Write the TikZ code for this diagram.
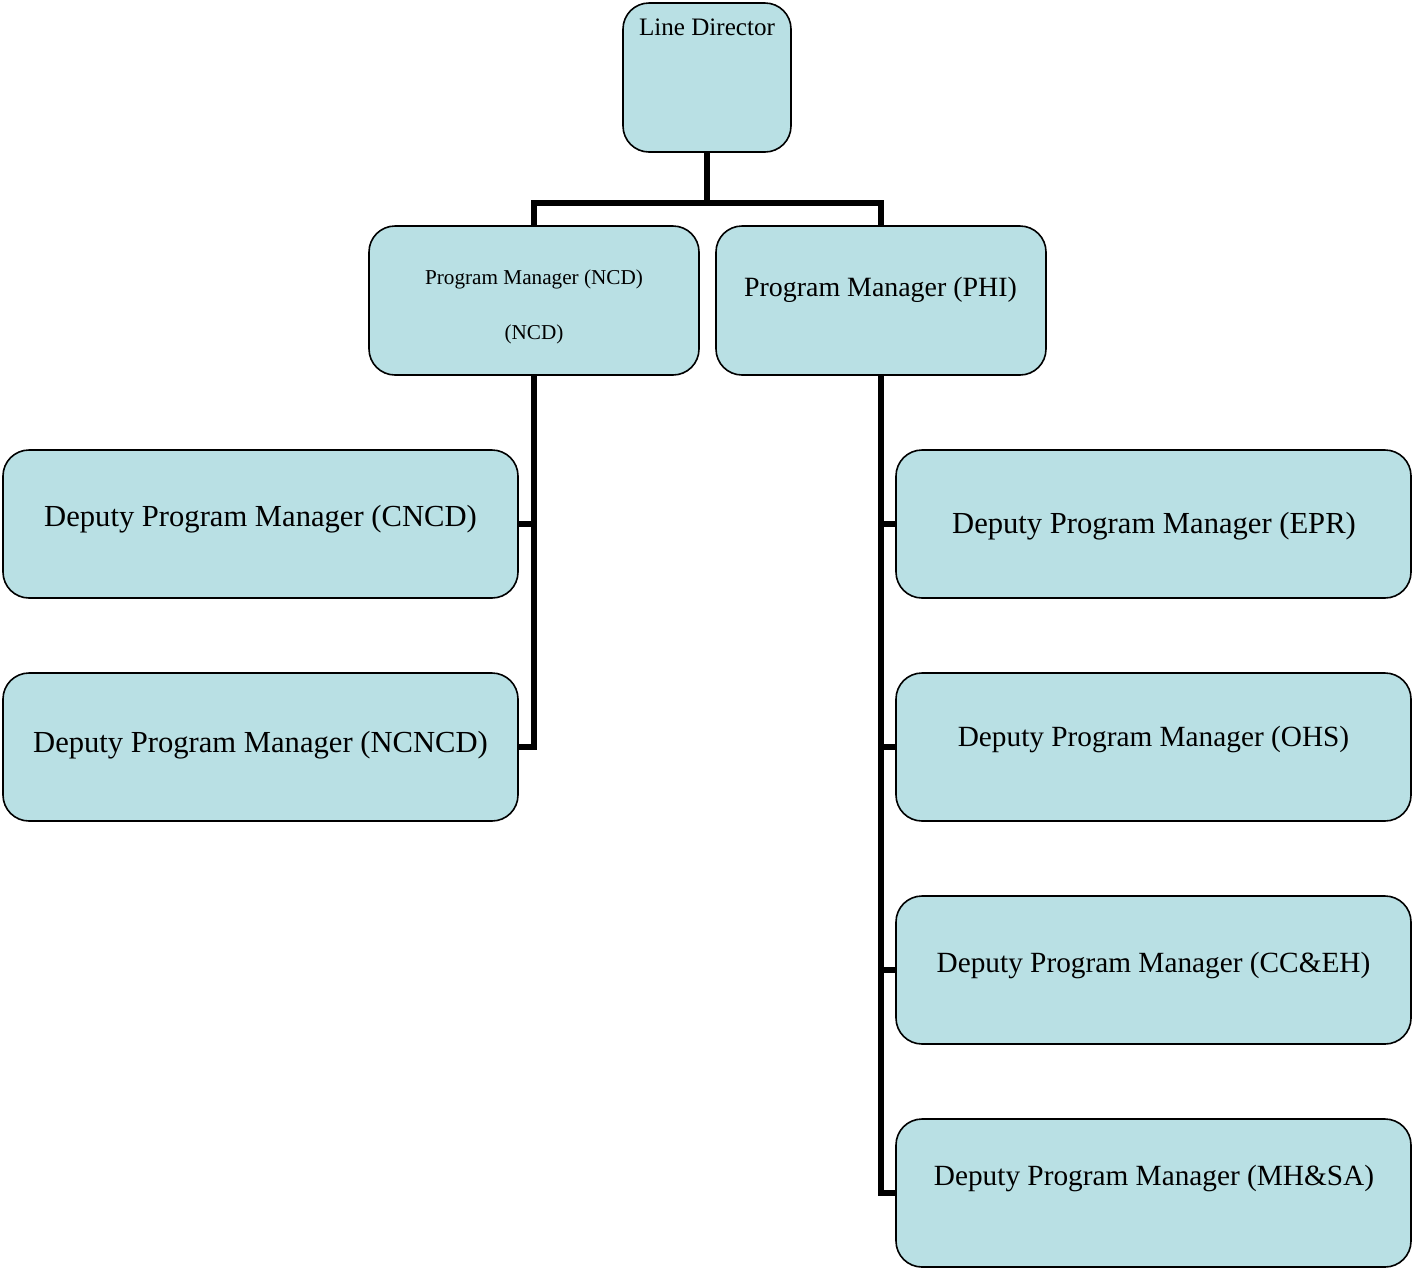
\documentclass[tikz,border=0pt]{standalone}
\usepackage{fontspec}
\setmainfont{Liberation Serif}
\definecolor{boxfill}{RGB}{185,224,228}
\begin{document}
\begin{tikzpicture}[x=1pt,y=-1pt,
  box/.style={draw=black, line width=1.6pt, fill=boxfill, rounded corners=26pt, inner sep=0pt, minimum width=#1},
  box/.default=515,
  conn/.style={draw=black, line width=5.5pt, line join=miter},
  txt/.style={anchor=base, inner sep=0pt, text=black},
  big/.style={font=\fontsize{30.6}{36}\selectfont},
  mid/.style={font=\fontsize{29.3}{35}\selectfont}]
\useasboundingbox (0,0) rectangle (1412,1270);
% boxes
\node[box=168, minimum height=149] (ld) at (707,77.5) {};
\node[box=330, minimum height=149] (pmn) at (534,300.5) {};
\node[box=330, minimum height=149] (pmp) at (881,300.5) {};
\node[box, minimum height=148] (dn1) at (260.5,524) {};
\node[box, minimum height=148] (dn2) at (260.5,747) {};
\node[box, minimum height=148] (dp1) at (1153.5,524) {};
\node[box, minimum height=148] (dp2) at (1153.5,747) {};
\node[box, minimum height=148] (dp3) at (1153.5,970) {};
\node[box, minimum height=148] (dp4) at (1153.5,1193) {};
% texts
\node[txt, font=\fontsize{25.1}{30}\selectfont] (ldt) at (707,35) {Line Director};
\node[txt, font=\fontsize{21.2}{25}\selectfont] (pmnt1) at (534,284) {Program Manager (NCD)};
\node[txt, font=\fontsize{21.2}{25}\selectfont] (pmnt2) at (534,339) {(NCD)};
\node[txt, font=\fontsize{27.9}{33}\selectfont] (pmpt) at (880.5,296) {Program Manager (PHI)};
\node[txt, big] (dn1t) at (260.5,526) {Deputy Program Manager (CNCD)};
\node[txt, big] (dn2t) at (260.5,752) {Deputy Program Manager (NCNCD)};
\node[txt, big] (dp1t) at (1154,533) {Deputy Program Manager (EPR)};
\node[txt, mid] (dp2t) at (1153.5,746) {Deputy Program Manager (OHS)};
\node[txt, mid] (dp3t) at (1153.5,972) {Deputy Program Manager (CC\&EH)};
\node[txt, mid] (dp4t) at (1154,1185) {Deputy Program Manager (MH\&SA)};
% connectors
\path (ld.south) ++(0,50) coordinate (j);
\draw[conn] (ld.south) -- (j);
\draw[conn] (pmn.north) |- (j) -| (pmp.north);
\draw[conn] (pmn.south) |- (dn2.east);
\draw[conn] (pmn.south |- dn1.east) -- (dn1.east);
\draw[conn] (pmp.south) |- (dp4.west);
\draw[conn] (pmp.south |- dp1.west) -- (dp1.west);
\draw[conn] (pmp.south |- dp2.west) -- (dp2.west);
\draw[conn] (pmp.south |- dp3.west) -- (dp3.west);
\end{tikzpicture}
\end{document}
